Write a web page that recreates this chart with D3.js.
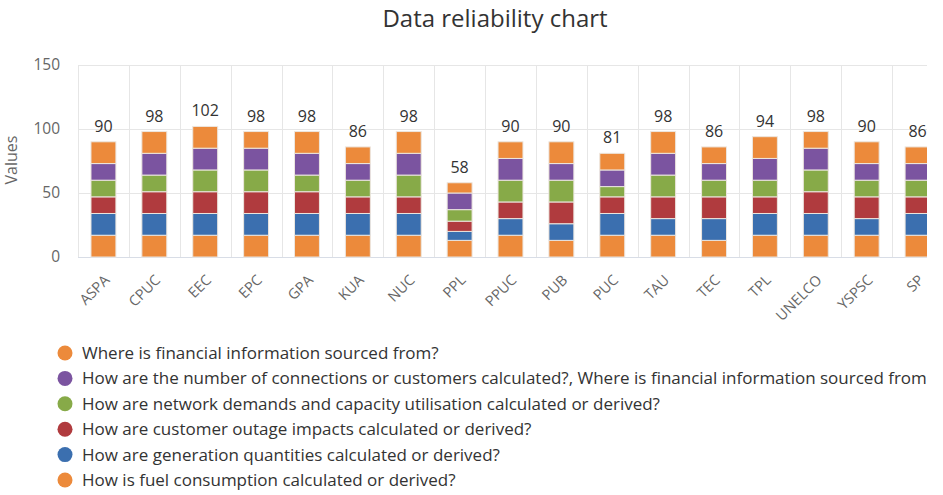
<!DOCTYPE html>
<html lang="en">
<head>
  <meta charset="UTF-8">
  <title>Data reliability chart</title>
  <style>
    body, html {
      margin: 0;
      padding: 0;
      background: #fff;
      font-family: "Open Sans", sans-serif;
    }
  </style>
</head>
<body>
  <svg id="svg" width="943" height="495"></svg>

  <script src="https://cdn.jsdelivr.net/npm/d3@7"></script>
  <script>
    const categories = ['ASPA', 'CPUC', 'EEC', 'EPC', 'GPA', 'KUA', 'NUC', 'PPL', 'PPUC',
      'PUB', 'PUC', 'TAU', 'TEC', 'TPL', 'UNELCO', 'YSPSC', 'SP'];

    // stacked bottom to top
    const fuel        = [17, 17, 17, 17, 17, 17, 17, 13, 17, 13, 17, 17, 13, 17, 17, 17, 17];
    const generation  = [17, 17, 17, 17, 17, 17, 17,  7, 13, 13, 17, 13, 17, 17, 17, 13, 17];
    const outage      = [13, 17, 17, 17, 17, 13, 13,  8, 13, 17, 13, 17, 17, 13, 17, 17, 13];
    const network     = [13, 13, 17, 17, 13, 13, 17,  9, 17, 17,  8, 17, 13, 13, 17, 13, 13];
    const connections = [13, 17, 17, 17, 17, 13, 17, 13, 17, 13, 13, 17, 13, 17, 17, 13, 13];
    const financial   = [17, 17, 17, 13, 17, 13, 17,  8, 13, 17, 13, 17, 13, 17, 13, 17, 13];

    const yTicks = [0, 50, 100, 150];

    // legend order (top of stack first)
    const series = [
      { key: 'financial', name: 'Where is financial information sourced from?', color: '#ec8a3b', values: financial },
      { key: 'connections', name: 'How are the number of connections or customers calculated?, Where is financial information sourced from', color: '#7b54a0', values: connections },
      { key: 'network', name: 'How are network demands and capacity utilisation calculated or derived?', color: '#87aa48', values: network },
      { key: 'outage', name: 'How are customer outage impacts calculated or derived?', color: '#b03b3e', values: outage },
      { key: 'generation', name: 'How are generation quantities calculated or derived?', color: '#3b6faf', values: generation },
      { key: 'fuel', name: 'How is fuel consumption calculated or derived?', color: '#ec8a3b', values: fuel }
    ];

    const rows = categories.map((c, i) => {
      const r = { label: c };
      series.forEach(s => { r[s.key] = s.values[i]; });
      return r;
    });

    const stackKeys = series.map(s => s.key).reverse();
    const stacked = d3.stack().keys(stackKeys)(rows);
    const colorOf = Object.fromEntries(series.map(s => [s.key, s.color]));

    const svg = d3.select('#svg');
    const plotLeft = 78, plotRight = 943, plotTop = 65, plotBottom = 257, visibleRight = 927;

    const x = d3.scaleBand().domain(categories).range([plotLeft, plotRight]).padding(0);
    const y = d3.scaleLinear().domain([0, 150]).range([plotBottom, plotTop]);
    const barW = x.bandwidth() * 0.49;

    svg.append('defs').append('clipPath').attr('id', 'clip')
      .append('rect').attr('x', 0).attr('y', 0).attr('width', visibleRight).attr('height', 495);

    const plot = svg.append('g').attr('clip-path', 'url(#clip)');

    // horizontal grid
    plot.append('g').selectAll('line').data(yTicks).join('line')
      .attr('x1', plotLeft).attr('x2', plotRight)
      .attr('y1', d => Math.round(y(d)) + 0.5).attr('y2', d => Math.round(y(d)) + 0.5)
      .attr('stroke', d => d === 0 ? '#d8dde6' : '#e6e6e6')
      .attr('stroke-width', 1);

    // vertical grid
    plot.append('g').selectAll('line').data(categories).join('line')
      .attr('x1', d => Math.round(x(d)) + 0.5).attr('x2', d => Math.round(x(d)) + 0.5)
      .attr('y1', plotTop).attr('y2', plotBottom)
      .attr('stroke', '#e6e6e6');

    // bars
    plot.append('g').selectAll('g').data(stacked).join('g')
      .attr('fill', d => colorOf[d.key])
      .selectAll('rect').data(d => d).join('rect')
      .attr('x', d => x(d.data.label) + (x.bandwidth() - barW) / 2)
      .attr('y', d => y(d[1]))
      .attr('width', barW)
      .attr('height', d => y(d[0]) - y(d[1]))
      .attr('stroke', '#ece6df')
      .attr('stroke-width', 1);

    // stack totals
    const totals = stacked[stacked.length - 1];
    plot.append('g').selectAll('text').data(totals).join('text')
      .attr('x', d => x(d.data.label) + x.bandwidth() / 2)
      .attr('y', d => y(d[1]) - 10)
      .attr('text-anchor', 'middle')
      .style('font-size', '16px')
      .style('fill', '#333')
      .text(d => d[1]);

    // y axis labels
    const yAxis = svg.append('g')
      .attr('transform', `translate(${plotLeft},0)`)
      .call(d3.axisLeft(y).tickValues(yTicks).tickSize(0).tickPadding(18));
    yAxis.select('.domain').remove();
    yAxis.selectAll('text')
      .style('font-family', '"Open Sans", sans-serif')
      .style('font-size', '15.5px')
      .style('fill', '#666');

    // x axis labels
    svg.append('g').selectAll('text').data(categories).join('text')
      .attr('transform', d => `translate(${x(d) + x.bandwidth() / 2 + 7},281) rotate(-45)`)
      .attr('text-anchor', 'end')
      .style('font-size', '14.5px')
      .style('fill', '#666')
      .text(d => d);

    svg.append('text')
      .attr('transform', 'translate(17,160) rotate(-90)')
      .attr('text-anchor', 'middle')
      .style('font-size', '16px')
      .style('fill', '#666')
      .text('Values');

    svg.append('text')
      .attr('x', 495)
      .attr('y', 27)
      .attr('text-anchor', 'middle')
      .style('font-size', '24px')
      .style('fill', '#333')
      .text('Data reliability chart');

    // legend
    const legend = svg.append('g').attr('clip-path', 'url(#clip)')
      .selectAll('g').data(series).join('g')
      .attr('transform', (d, i) => `translate(65,${353 + i * 25.4})`);
    legend.append('circle').attr('r', 7.5).attr('fill', d => d.color);
    legend.append('text')
      .attr('x', 17)
      .attr('dy', '0.35em')
      .style('font-size', '17px')
      .style('fill', '#333')
      .text(d => d.name);
  </script>
</body>
</html>
